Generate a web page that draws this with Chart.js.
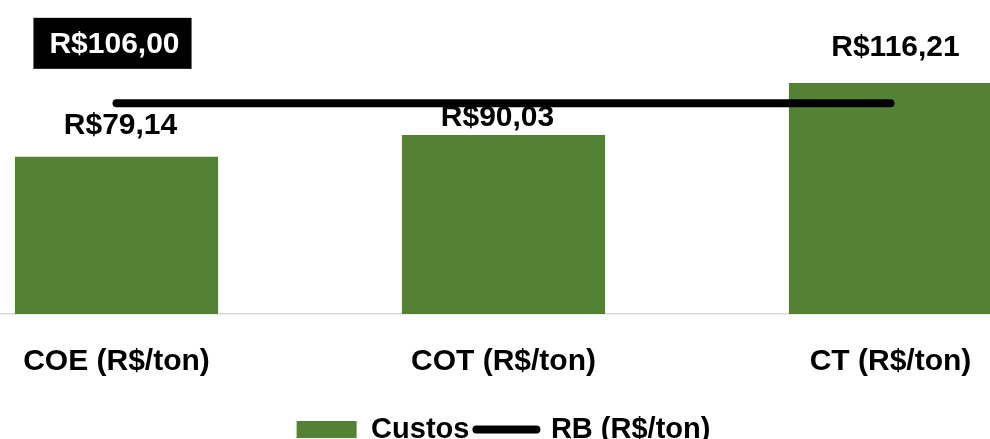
<!DOCTYPE html>
<html lang="pt-BR">
<head>
<meta charset="utf-8">
<title>Custos x RB</title>
<script src="https://cdn.jsdelivr.net/npm/chart.js@4"></script>
<style>
    html, body { margin: 0; padding: 0; background: #ffffff; }
    /* janela visível; o gráfico é mais largo e fica recortado nas bordas */
    #janela { position: relative; width: 990px; height: 439px; overflow: hidden; }
    #custos-chart { position: absolute; left: -77px; top: 0; width: 1168px; height: 454px; }
</style>
</head>
<body>
<div id="janela"><div id="custos-chart"></div></div>
<script>
// 图表数据
const categorias = ['COE (R$/ton)', 'COT (R$/ton)', 'CT (R$/ton)'];
const custos = [79.14, 90.03, 116.21];
const receitaBruta = [106.00, 106.00, 106.00];
const nomesSeries = ['Custos', 'RB (R$/ton)'];

const FONTE = "'Liberation Sans', Arial, sans-serif";
const VERDE = '#548235';

// ajuste manual dos rótulos (px): distância acima da barra e deslocamento lateral
const rotuloAcima = [23, 9, 27];
const rotuloLado = [4, -6, 5];

document.addEventListener('DOMContentLoaded', function() {
    createCustosChart();
});

/**
 * Formata valor como moeda (R$79,14)
 */
function formatReais(v) {
    return 'R$' + v.toFixed(2).replace('.', ',');
}

/**
 * Rótulos de dados: valores acima das barras e caixa preta da RB
 */
const rotulosPlugin = {
    id: 'rotulos',
    afterDatasetsDraw(chart) {
        const ctx = chart.ctx;
        ctx.save();
        ctx.font = 'bold 30px ' + FONTE;
        ctx.textAlign = 'center';
        ctx.textBaseline = 'alphabetic';

        // valores das barras
        const barMeta = chart.getDatasetMeta(0);
        barMeta.data.forEach(function(bar, i) {
            ctx.fillStyle = '#000000';
            ctx.fillText(formatReais(custos[i]), bar.x + rotuloLado[i], bar.y - rotuloAcima[i]);
        });

        // rótulo da linha RB, só no primeiro ponto
        const linhaMeta = chart.getDatasetMeta(1);
        const p = linhaMeta.data[0];
        const texto = formatReais(receitaBruta[0]);
        const w = ctx.measureText(texto).width + 28;
        const h = 51;
        const cx = p.x - 4;
        const cy = p.y - 60;
        ctx.fillStyle = '#000000';
        ctx.fillRect(cx - w / 2, cy - h / 2, w, h);
        ctx.fillStyle = '#ffffff';
        ctx.textBaseline = 'middle';
        ctx.fillText(texto, cx + 2, cy + 1);
        ctx.restore();
    }
};

/**
 * Cria o gráfico de custos x receita bruta
 */
function createCustosChart() {
    const container = document.getElementById('custos-chart');
    if (!container) return;
    container.innerHTML = '';

    const canvas = document.createElement('canvas');
    container.appendChild(canvas);

    new Chart(canvas, {
        data: {
            labels: categorias,
            datasets: [{
                type: 'bar',
                label: nomesSeries[0],
                data: custos,
                backgroundColor: VERDE,
                borderWidth: 0,
                categoryPercentage: 1,
                barPercentage: 0.525,
                order: 1
            }, {
                type: 'line',
                label: nomesSeries[1],
                data: receitaBruta,
                borderColor: '#000000',
                backgroundColor: '#000000',
                borderWidth: 8,
                borderCapStyle: 'round',
                pointRadius: 0,
                pointStyle: 'line',
                order: 0
            }]
        },
        plugins: [rotulosPlugin],
        options: {
            responsive: true,
            maintainAspectRatio: false,
            animation: false,
            layout: {
                padding: { left: 0, right: 7, top: 0, bottom: 0 }
            },
            plugins: {
                tooltip: { enabled: false },
                legend: {
                    position: 'bottom',
                    labels: {
                        usePointStyle: true,
                        pointStyleWidth: 60,
                        boxHeight: 17,
                        padding: 7,
                        color: '#000000',
                        font: { family: FONTE, size: 29, weight: 'bold' },
                        sort: function(a, b) { return a.datasetIndex - b.datasetIndex; },
                        generateLabels: function(chart) {
                            return chart.data.datasets.map(function(ds, i) {
                                return {
                                    text: ds.label,
                                    datasetIndex: i,
                                    fillStyle: ds.type === 'bar' ? VERDE : '#000000',
                                    strokeStyle: ds.type === 'bar' ? VERDE : '#000000',
                                    lineWidth: ds.type === 'bar' ? 0 : 8,
                                    lineCap: 'round',
                                    pointStyle: ds.type === 'bar' ? 'rect' : 'line',
                                    fontColor: '#000000',
                                    hidden: false
                                };
                            });
                        }
                    }
                }
            },
            scales: {
                x: {
                    offset: true,
                    grid: { display: false, drawTicks: false },
                    border: { display: true, color: '#d9d9d9', width: 1.5 },
                    ticks: {
                        color: '#000000',
                        padding: 30,
                        font: { family: FONTE, size: 30, weight: 'bold' }
                    },
                    // eixo um pouco mais baixo sem mexer na legenda
                    afterFit: function(scale) {
                        scale.height -= 2;
                    }
                },
                y: {
                    display: false,
                    min: 0,
                    max: 158
                }
            }
        }
    });
}
</script>
</body>
</html>
